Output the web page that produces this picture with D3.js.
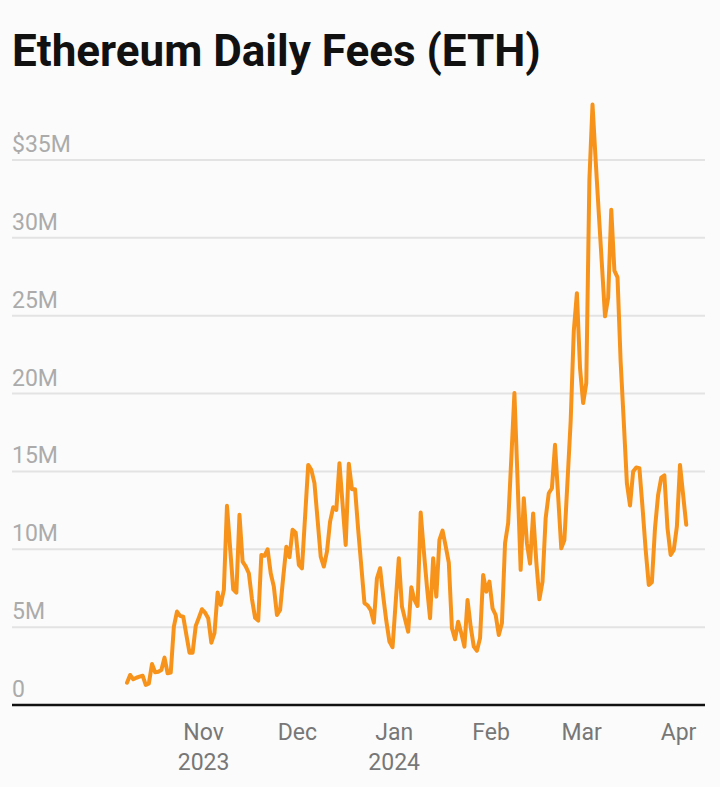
<!DOCTYPE html>
<html>
<head>
<meta charset="utf-8">
<script src="https://cdn.jsdelivr.net/npm/d3@7"></script>
<style>
  html, body { margin: 0; padding: 0; background: #fbfbfb; }
  body { width: 720px; height: 787px; overflow: hidden; font-family: Roboto, "Noto Sans", sans-serif; }
</style>
</head>
<body>
<script>
// daily fees in millions of $, one value per day starting 7 Oct 2023
const startDate = Date.UTC(2023, 9, 7);
const feesM = [
  1.43, 1.93, 1.65, 1.75, 1.82, 1.88, 1.29, 1.39, 2.63, 2.10,
  2.14, 2.25, 3.04, 2.04, 2.08, 5.03, 6.00, 5.72, 5.67, 4.50,
  3.36, 3.36, 5.08, 5.60, 6.15, 5.93, 5.57, 4.00, 4.61, 7.22,
  6.43, 7.39, 12.79, 10.10, 7.43, 7.22, 12.21, 9.21, 8.90, 8.46,
  6.80, 5.60, 5.42, 9.64, 9.58, 10.00, 8.46, 7.60, 5.78, 6.10,
  8.20, 10.17, 9.49, 11.25, 11.07, 9.00, 8.78, 12.10, 15.42, 15.10,
  14.25, 11.90, 9.53, 8.89, 9.85, 11.78, 12.70, 12.53, 15.53, 12.90,
  10.28, 15.49, 13.86, 13.86, 11.25, 8.90, 6.54, 6.40, 6.10, 5.29,
  8.14, 8.78, 7.00, 5.40, 4.07, 3.71, 6.60, 9.43, 6.32, 5.50,
  4.71, 7.56, 6.75, 6.36, 12.36, 9.90, 7.60, 5.57, 9.43, 6.96,
  10.60, 11.20, 10.20, 9.14, 4.93, 4.22, 5.35, 4.61, 3.75, 6.75,
  5.03, 3.75, 3.49, 4.28, 8.35, 7.28, 7.92, 6.21, 5.78, 4.50,
  5.25, 10.39, 11.68, 15.80, 20.03, 14.50, 8.68, 13.28, 10.39, 9.08,
  12.30, 9.21, 6.79, 7.92, 12.00, 13.60, 13.92, 16.71, 13.40, 10.06,
  10.60, 14.40, 18.20, 24.00, 26.45, 21.64, 19.39, 20.67, 33.74, 38.56,
  35.00, 31.60, 28.30, 24.96, 26.14, 31.81, 27.89, 27.46, 22.06, 18.20,
  14.25, 12.81, 14.99, 15.25, 15.21, 12.70, 10.00, 7.71, 7.89, 11.36,
  13.50, 14.60, 14.74, 11.36, 9.64, 9.96, 11.46, 15.42, 13.50, 11.57
];
const yTicks = [0, 5, 10, 15, 20, 25, 30, 35];
const yTickLabels = ["0", "5M", "10M", "15M", "20M", "25M", "30M", "$35M"];
const monthTicks = [
  Date.UTC(2023, 10, 1), Date.UTC(2023, 11, 1), Date.UTC(2024, 0, 1),
  Date.UTC(2024, 1, 1), Date.UTC(2024, 2, 1), Date.UTC(2024, 3, 1)
];
const monthLabels = [["Nov", "2023"], ["Dec"], ["Jan", "2024"], ["Feb"], ["Mar"], ["Apr"]];

const data = feesM.map((v, i) => ({ date: new Date(startDate + i * 864e5), value: v }));

const width = 720, height = 787;
const left = 12, right = 705, baseline = 705;

const svg = d3.select("body").append("svg")
  .attr("width", width)
  .attr("height", height)
  .style("display", "block");

svg.append("text")
  .attr("x", 12)
  .attr("y", 66)
  .attr("font-family", "Roboto, sans-serif")
  .attr("font-weight", 700)
  .attr("font-size", 44)
  .attr("fill", "#111")
  .text("Ethereum Daily Fees (ETH)");

const x = d3.scaleUtc()
  .domain([new Date(startDate), new Date(Date.UTC(2024, 3, 1))])
  .range([127, 680]);

const y = d3.scaleLinear()
  .domain([0, 35])
  .range([baseline, 160]);

// gridlines + y labels
const grid = svg.append("g");
grid.selectAll("line")
  .data(yTicks.filter(d => d > 0))
  .join("line")
  .attr("x1", left).attr("x2", right)
  .attr("y1", d => y(d)).attr("y2", d => y(d))
  .attr("stroke", "#e3e3e3")
  .attr("stroke-width", 2);

grid.selectAll("text")
  .data(yTicks)
  .join("text")
  .attr("x", left)
  .attr("y", d => y(d) - 8)
  .attr("font-size", 23)
  .attr("fill", "#ababab")
  .text((d, i) => yTickLabels[i]);

// x axis
const xAxis = svg.append("g")
  .attr("transform", `translate(-2,${baseline})`)
  .call(d3.axisBottom(x).tickValues(monthTicks.map(t => new Date(t))).tickSize(0).tickFormat(""));
xAxis.select(".domain").remove();
xAxis.selectAll(".tick text").remove();

xAxis.selectAll(".tick").each(function(d, i) {
  const t = d3.select(this).append("text")
    .attr("text-anchor", "middle")
    .attr("font-family", "Roboto, sans-serif")
    .attr("font-size", 23)
    .attr("fill", "#777");
  monthLabels[i].forEach((s, j) => {
    t.append("tspan").attr("x", 0).attr("y", 35 + j * 30).text(s);
  });
});

svg.append("line")
  .attr("x1", left).attr("x2", right)
  .attr("y1", baseline).attr("y2", baseline)
  .attr("stroke", "#111")
  .attr("stroke-width", 2.5);

const line = d3.line()
  .x(d => x(d.date))
  .y(d => y(d.value));

svg.append("path")
  .datum(data)
  .attr("fill", "none")
  .attr("stroke", "#f7931a")
  .attr("stroke-width", 4)
  .attr("stroke-linejoin", "round")
  .attr("stroke-linecap", "round")
  .attr("d", line);
</script>
</body>
</html>
